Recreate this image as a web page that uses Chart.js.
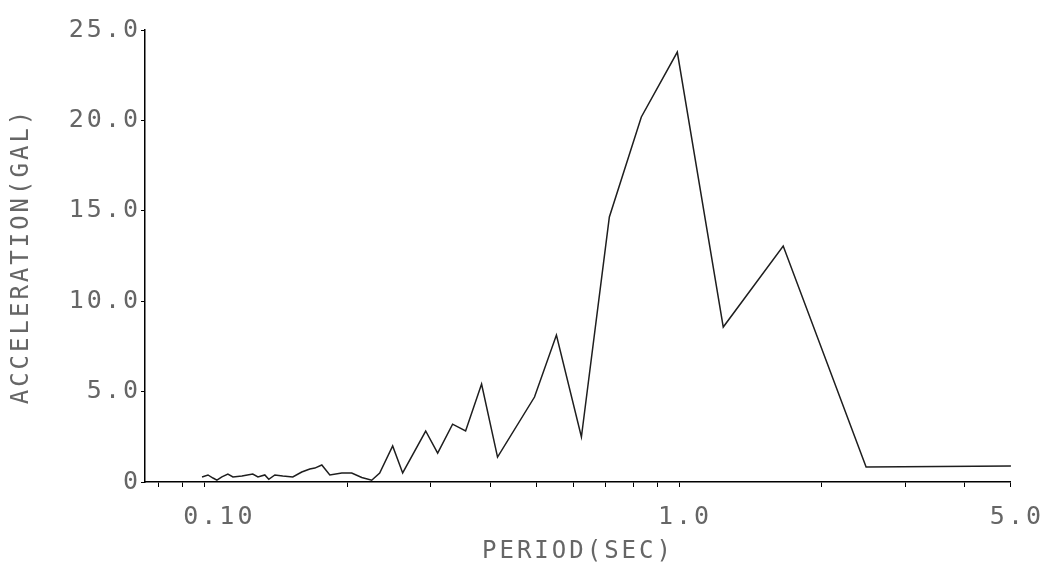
<!DOCTYPE html>
<html>
<head>
<meta charset="utf-8">
<title>Response spectrum</title>
<script src="https://cdn.jsdelivr.net/npm/chart.js@4/dist/chart.umd.min.js"></script>
<style>
    html, body { margin: 0; padding: 0; background: #fff; }
    #chart { display: block; }
</style>
</head>
<body>
<canvas id="chart" width="1053" height="574"></canvas>
<script>

// -----------------------
// DATA
// -----------------------

const periods = [
    0.0989, 0.1018, 0.1043, 0.1063, 0.1089, 0.1121, 0.1149, 0.1200,
    0.1265, 0.1297, 0.1341, 0.1367, 0.1408, 0.1463, 0.1536, 0.1604,
    0.1668, 0.1709, 0.1768, 0.1838, 0.1948, 0.2044, 0.2146, 0.2252,
    0.2341, 0.2493, 0.2617, 0.2926, 0.3101, 0.3334, 0.3551, 0.3837,
    0.4146, 0.4960, 0.5516, 0.6227, 0.7131, 0.8327, 0.9914, 1.239,
    1.657, 2.477, 5.0
];

const accel = [
    0.28, 0.39, 0.22, 0.10, 0.28, 0.44, 0.28, 0.33,
    0.44, 0.28, 0.39, 0.15, 0.39, 0.33, 0.28, 0.55,
    0.72, 0.77, 0.94, 0.39, 0.50, 0.50, 0.25, 0.10,
    0.50, 1.99, 0.50, 2.82, 1.60, 3.20, 2.82, 5.42,
    1.38, 4.70, 8.13, 2.49, 14.66, 20.19, 23.78, 8.57,
    13.05, 0.83, 0.88
];

const xTicks = [0.08, 0.09, 0.1, 0.2, 0.3, 0.4, 0.5, 0.6, 0.7, 0.8, 0.9, 1, 2, 3, 4, 5];
const xTickLabels = { 0.1: ' 0.10', 1: '1.0', 5: '5.0' };
const yTicks = [0, 5, 10, 15, 20, 25];

// -----------------------
// STYLE
// -----------------------

const textColor = '#666';
const fontFamily = '"DejaVu Sans Mono", "Liberation Mono", monospace';

// plotter lettering is widely spaced
const spacingPlugin = {
    id: 'spacing',
    beforeLayout(chart){ chart.ctx.letterSpacing = '3px'; },
    beforeDraw(chart){ chart.ctx.letterSpacing = '3px'; }
};

// -----------------------
// CHART
// -----------------------

const ctx = document.getElementById('chart').getContext('2d');

new Chart(ctx, {
    type: 'line',
    data: {
        datasets: [{
            data: periods.map((p, i) => ({ x: p, y: accel[i] })),
            borderColor: '#1e1e1e',
            borderWidth: 1.5,
            pointRadius: 0,
            fill: false,
            tension: 0
        }]
    },
    options: {
        responsive: false,
        animation: false,
        devicePixelRatio: 1,
        layout: { padding: { left: 0, top: 30, right: 41, bottom: 0 } },
        plugins: {
            legend: { display: false },
            tooltip: { enabled: false }
        },
        scales: {
            x: {
                type: 'logarithmic',
                min: 0.075,
                max: 5.0,
                afterFit: s => { s.height = 92; },
                afterBuildTicks: s => { s.ticks = xTicks.map(v => ({ value: v })); },
                border: { color: '#000', width: 1.5 },
                grid: {
                    drawOnChartArea: false,
                    color: '#000',
                    tickLength: 5,
                    lineWidth: 1
                },
                ticks: {
                    autoSkip: false,
                    maxRotation: 0,
                    padding: 15,
                    labelOffset: 6,
                    color: textColor,
                    font: { family: fontFamily, size: 25 },
                    callback: v => xTickLabels[v] || ''
                },
                title: {
                    display: true,
                    text: 'PERIOD(SEC)',
                    color: textColor,
                    font: { family: fontFamily, size: 24 },
                    padding: { top: 0, bottom: 8 }
                }
            },
            y: {
                min: 0,
                max: 25,
                afterFit: s => { s.width = 145; },
                afterBuildTicks: s => { s.ticks = yTicks.map(v => ({ value: v })); },
                border: { color: '#000', width: 1.5 },
                grid: {
                    drawOnChartArea: false,
                    color: '#000',
                    tickLength: 4,
                    lineWidth: 1
                },
                ticks: {
                    padding: 0,
                    color: textColor,
                    font: { family: fontFamily, size: 25 },
                    callback: v => v === 0 ? '0' : v.toFixed(1)
                },
                title: {
                    display: true,
                    text: 'ACCELERATION(GAL)',
                    color: textColor,
                    font: { family: fontFamily, size: 24 },
                    padding: { top: 7, bottom: 0 }
                }
            }
        }
    },
    plugins: [spacingPlugin]
});

</script>
</body>
</html>
